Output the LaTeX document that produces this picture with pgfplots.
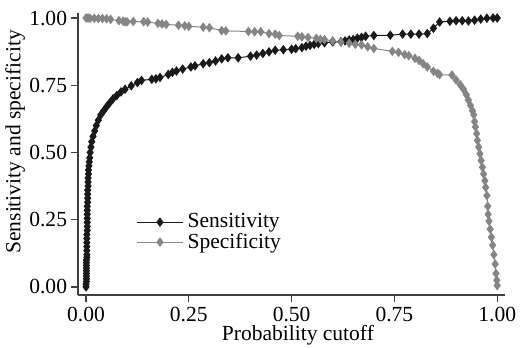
\documentclass[border=0pt]{standalone}
\usepackage{fontspec}
\setmainfont{Liberation Serif}
\usepackage{pgfplots}
\pgfplotsset{compat=1.18}
\definecolor{sens}{HTML}{1A1A1A}
\definecolor{spec}{HTML}{858585}
\begin{document}
\begin{tikzpicture}
\begin{axis}[
  scale only axis,
  width=213.5bp, height=141bp,
  xmin=-0.0195, xmax=1.019,
  ymin=-0.030, ymax=1.0186,
  axis lines*=left,
  axis line style={black!75, line width=0.6bp},
  tick style={black!75, line width=0.6bp},
  tick align=outside,
  major tick length=3.3bp,
  xtick={0,0.25,0.5,0.75,1},
  ytick={0,0.25,0.5,0.75,1},
  /pgf/number format/.cd, fixed, fixed zerofill, precision=2, assume math mode=true,
  /pgfplots/.cd,
  tick label style={font=\fontsize{10.8}{13}\selectfont},
  yticklabel style={inner sep=2pt},
  xticklabel style={inner sep=2.5pt},
  label style={font=\fontsize{10.8}{13}\selectfont},
  xlabel={Probability cutoff},
  ylabel={Sensitivity and specificity},
  xlabel style={at={(axis description cs:0.515,-0.143)}, anchor=center, inner sep=0pt},
  ylabel style={at={(axis description cs:-0.1475,0.543)}, anchor=center, inner sep=0pt},
  legend style={draw=none, fill=none, at={(rel axis cs:0.136,0.222)}, anchor=west,
    inner sep=0pt, row sep=0pt, nodes={inner sep=0.6pt}, font=\fontsize{10.8}{13}\selectfont},
  legend cell align=left,
  legend image code/.code={\draw[mark repeat=2,mark phase=2,#1] plot coordinates {(0bp,0bp) (11.5bp,0bp) (23bp,0bp)}; \path (24.5bp,0bp);},
  clip=false,
]
\addplot[color=sens, line width=0.5bp, mark=diamond*, mark size=2bp, mark options={solid, fill=sens, draw=sens}] coordinates {
(0.000,0.000)(0.000,0.010)(0.001,0.020)(0.001,0.030)(0.001,0.040)(0.001,0.050)(0.001,0.060)(0.001,0.070)(0.001,0.080)(0.001,0.090)(0.001,0.100)(0.002,0.110)(0.002,0.120)(0.002,0.135)(0.002,0.150)(0.002,0.165)(0.002,0.180)(0.002,0.195)(0.003,0.210)(0.003,0.225)(0.003,0.240)(0.003,0.255)(0.003,0.270)(0.003,0.285)(0.003,0.300)(0.004,0.315)(0.004,0.330)(0.004,0.345)(0.004,0.360)(0.005,0.375)(0.005,0.390)(0.005,0.405)(0.006,0.420)(0.006,0.435)(0.007,0.450)(0.008,0.465)(0.009,0.480)(0.010,0.500)(0.012,0.520)(0.014,0.540)(0.017,0.560)(0.021,0.580)(0.025,0.600)(0.030,0.620)(0.036,0.640)(0.043,0.655)(0.050,0.670)(0.058,0.685)(0.066,0.700)(0.075,0.712)(0.085,0.725)(0.095,0.735)(0.110,0.748)(0.125,0.760)(0.135,0.768)(0.160,0.772)(0.170,0.774)(0.180,0.779)(0.200,0.790)(0.210,0.798)(0.220,0.803)(0.235,0.810)(0.255,0.818)(0.265,0.822)(0.285,0.830)(0.300,0.834)(0.315,0.840)(0.330,0.848)(0.345,0.852)(0.370,0.852)(0.400,0.858)(0.415,0.862)(0.430,0.868)(0.445,0.874)(0.460,0.880)(0.480,0.882)(0.500,0.884)(0.510,0.886)(0.525,0.890)(0.535,0.895)(0.545,0.898)(0.555,0.902)(0.565,0.905)(0.580,0.908)(0.600,0.911)(0.620,0.912)(0.630,0.915)(0.640,0.918)(0.650,0.920)(0.660,0.925)(0.670,0.928)(0.680,0.932)(0.700,0.935)(0.740,0.936)(0.770,0.940)(0.790,0.940)(0.810,0.940)(0.830,0.942)(0.845,0.962)(0.860,0.985)(0.885,0.988)(0.900,0.990)(0.915,0.990)(0.930,0.989)(0.945,0.992)(0.960,0.996)(0.975,0.999)(0.990,1.000)(1.000,1.000)
};
\addlegendentry{Sensitivity}
\addplot[color=spec, line width=0.5bp, mark=diamond*, mark size=2bp, mark options={solid, fill=spec, draw=spec}] coordinates {
(0.000,1.000)(0.005,1.000)(0.010,0.999)(0.020,0.999)(0.030,0.998)(0.040,0.998)(0.050,0.997)(0.060,0.995)(0.080,0.990)(0.090,0.988)(0.095,0.986)(0.100,0.986)(0.115,0.987)(0.140,0.986)(0.150,0.985)(0.175,0.980)(0.185,0.978)(0.195,0.976)(0.225,0.973)(0.240,0.971)(0.250,0.969)(0.285,0.966)(0.300,0.964)(0.330,0.953)(0.340,0.952)(0.395,0.950)(0.410,0.949)(0.425,0.949)(0.445,0.942)(0.460,0.940)(0.470,0.935)(0.515,0.932)(0.525,0.930)(0.540,0.928)(0.560,0.924)(0.570,0.921)(0.580,0.920)(0.600,0.915)(0.620,0.910)(0.640,0.906)(0.655,0.902)(0.670,0.900)(0.685,0.893)(0.700,0.887)(0.745,0.876)(0.760,0.872)(0.775,0.864)(0.785,0.860)(0.800,0.850)(0.810,0.842)(0.820,0.830)(0.830,0.818)(0.845,0.802)(0.855,0.794)(0.860,0.789)(0.890,0.788)(0.900,0.770)(0.910,0.752)(0.918,0.735)(0.925,0.715)(0.930,0.695)(0.935,0.675)(0.940,0.655)(0.943,0.640)(0.945,0.615)(0.947,0.595)(0.950,0.570)(0.952,0.545)(0.955,0.520)(0.958,0.495)(0.961,0.470)(0.964,0.445)(0.967,0.420)(0.970,0.395)(0.972,0.370)(0.975,0.340)(0.977,0.300)(0.978,0.270)(0.980,0.245)(0.983,0.215)(0.986,0.185)(0.989,0.155)(0.992,0.120)(0.995,0.085)(0.997,0.050)(0.999,0.025)(1.000,0.005)
};
\addlegendentry{Specificity}
\end{axis}
\pgfresetboundingbox
\path (-39bp,-26.5bp) rectangle (221bp,147.5bp);
\end{tikzpicture}
\end{document}
